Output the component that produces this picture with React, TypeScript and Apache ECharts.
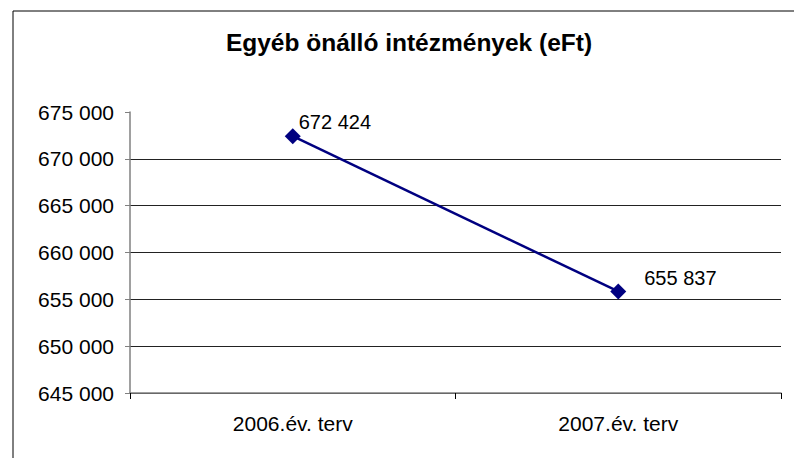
import React, { useEffect, useRef } from "react";
import * as echarts from "echarts";

const titleText = "Egyéb önálló intézmények (eFt)";
const categories = ["2006.év. terv", "2007.év. terv"];
const values = [672424, 655837];
const labelOffsets = [[-2, -14], [18, -13]];
const yMin = 645000;
const yMax = 675000;
const yStep = 5000;

const fmt = (v: number) => String(Math.round(v)).replace(/\B(?=(\d{3})+(?!\d))/g, " ");
const FONT = "'Liberation Sans', Arial, sans-serif";

export default function App() {
  const ref = useRef<HTMLDivElement>(null);
  useEffect(() => {
    if (!ref.current) return;
    const chart = echarts.init(ref.current, null, { renderer: "svg" });
    const nLines = (yMax - yMin) / yStep + 1;
    const splitColors = Array.from({ length: nLines }, (_, i) => (i === nLines - 1 ? "rgba(0,0,0,0)" : "#222"));
    chart.setOption({
      animation: false,
      backgroundColor: "#fff",
      textStyle: { fontFamily: FONT },
      grid: { left: 130, right: 13, top: 112, bottom: 65 },
      graphic: [
        {
          type: "rect",
          shape: { x: 13, y: 11, width: 900, height: 600 },
          style: { fill: "none", stroke: "#000", lineWidth: 1 },
          z: 10,
          silent: true,
        },
        {
          type: "text",
          x: 409,
          y: 42,
          style: {
            text: titleText,
            fontFamily: FONT,
            fontSize: 24.5,
            fontWeight: "bold",
            fill: "#000",
            textAlign: "center",
            textVerticalAlign: "middle",
          },
        },
      ],
      xAxis: {
        type: "category",
        data: categories,
        boundaryGap: true,
        axisLine: { lineStyle: { color: "#808080", width: 1.5 } },
        axisTick: { show: true, length: 6, lineStyle: { color: "#000" } },
        axisLabel: { color: "#000", fontSize: 21, fontFamily: FONT, margin: 20 },
        splitLine: { show: false },
      },
      yAxis: {
        type: "value",
        min: yMin,
        max: yMax,
        interval: yStep,
        axisLine: { show: true, lineStyle: { color: "#808080", width: 1.5 } },
        axisTick: { show: true, length: 5, lineStyle: { color: "#808080" } },
        axisLabel: { color: "#000", fontSize: 21, fontFamily: FONT, margin: 16, formatter: fmt },
        splitLine: { show: true, lineStyle: { color: splitColors, width: 1 } },
      },
      series: [
        {
          type: "line",
          data: values.map((v, i) => ({
            value: v,
            label: { offset: labelOffsets[i] },
          })),
          symbol: "diamond",
          symbolSize: 16,
          lineStyle: { color: "#000080", width: 2.5 },
          itemStyle: { color: "#000080" },
          label: {
            show: true,
            position: "right",
            distance: 0,
            color: "#000",
            fontSize: 20,
            fontFamily: FONT,
            formatter: (p: any) => fmt(p.value),
          },
        },
      ],
    });
    return () => chart.dispose();
  }, []);
  return <div ref={ref} style={{ position: "absolute", left: 0, top: 0, width: 794, height: 458 }} />;
}
